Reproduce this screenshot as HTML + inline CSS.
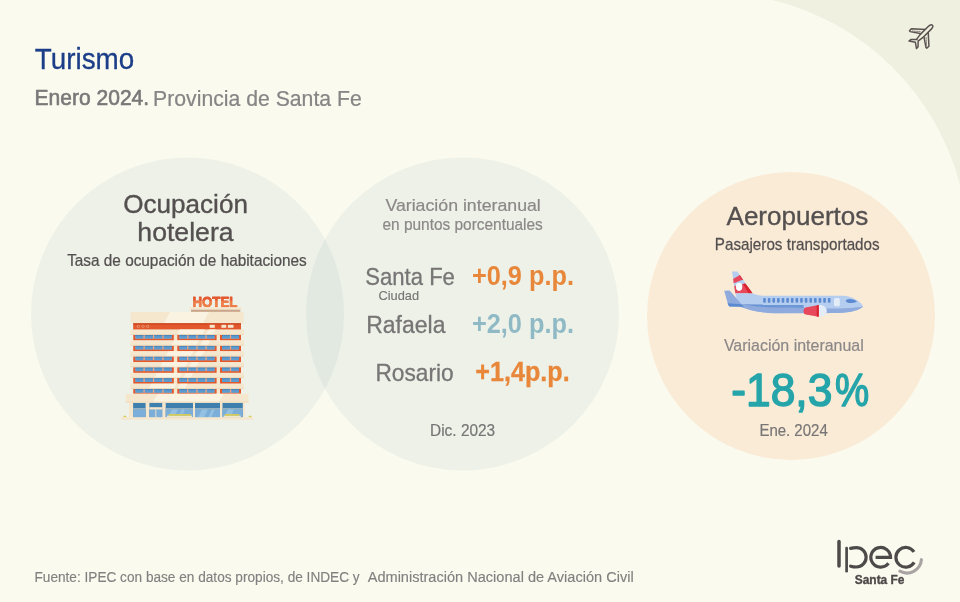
<!DOCTYPE html>
<html lang="es"><head><meta charset="utf-8"><title>Turismo - Enero 2024 - Provincia de Santa Fe</title>
<style>
html,body{margin:0;padding:0;background:#FAFAEE;}
body{width:960px;height:602px;overflow:hidden;font-family:"Liberation Sans",sans-serif;}
svg{display:block;font-family:"Liberation Sans",sans-serif;}
</style></head><body>
<svg width="960" height="602" viewBox="0 0 960 602">
<rect width="960" height="602" fill="#FAFAEE"/>
<path d="M772.1,0 A256.4,256.4 0 0 1 960,184.9 L960,0 Z" fill="#EFF0E0"/>
<circle cx="187.5" cy="314" r="156.5" fill="#EDF1E8"/>
<circle cx="462.5" cy="314" r="156.5" fill="#EDF1E8"/>
<clipPath id="lc"><circle cx="187.5" cy="314" r="156.5"/></clipPath>
<circle cx="462.5" cy="314" r="156.5" fill="#E1E9E1" clip-path="url(#lc)"/>
<circle cx="791" cy="316" r="144" fill="#FAEBD7"/>
<text transform="translate(34.82,68.5) scale(0.9655,1)" font-size="28.8" font-weight="400" fill="#1C3E88" stroke="#1C3E88" stroke-width="0.3" stroke-linejoin="round" xml:space="preserve">Turismo</text>
<text transform="translate(34.55,105.3) scale(0.9654,1)" font-size="21.8" font-weight="400" fill="#7A7878" stroke="#7A7878" stroke-width="0.6" stroke-linejoin="round" xml:space="preserve">Enero 2024.</text>
<text transform="translate(153.10,105.5) scale(0.9728,1)" font-size="21.8" font-weight="400" fill="#878585" stroke="#878585" stroke-width="0.25" stroke-linejoin="round" xml:space="preserve">Provincia de Santa Fe</text>
<text transform="translate(123.19,212.5) scale(1.0120,1)" font-size="25.8" font-weight="400" fill="#555050" stroke="#555050" stroke-width="0.35" stroke-linejoin="round" xml:space="preserve">Ocupación</text>
<text transform="translate(137.34,240.7) scale(1.0058,1)" font-size="26.5" font-weight="400" fill="#555050" stroke="#555050" stroke-width="0.35" stroke-linejoin="round" xml:space="preserve">hotelera</text>
<text transform="translate(67.17,266.0) scale(0.9250,1)" font-size="16.6" font-weight="400" fill="#555050" stroke="#555050" stroke-width="0.25" stroke-linejoin="round" xml:space="preserve">Tasa de ocupación de habitaciones</text>
<text transform="translate(385.40,210.85) scale(1.0562,1)" font-size="16.8" font-weight="400" fill="#8C8888" stroke="#8C8888" stroke-width="0.2" stroke-linejoin="round" xml:space="preserve">Variación interanual</text>
<text transform="translate(382.44,229.5) scale(0.9187,1)" font-size="16.8" font-weight="400" fill="#8C8888" stroke="#8C8888" stroke-width="0.2" stroke-linejoin="round" xml:space="preserve">en puntos porcentuales</text>
<text transform="translate(365.31,285.2) scale(0.9360,1)" font-size="23.6" font-weight="400" fill="#777575" stroke="#777575" stroke-width="0.3" stroke-linejoin="round" xml:space="preserve">Santa Fe</text>
<text transform="translate(378.49,300.1) scale(1.0103,1)" font-size="12.7" font-weight="400" fill="#777575" stroke="#777575" stroke-width="0.15" stroke-linejoin="round" xml:space="preserve">Ciudad</text>
<text transform="translate(471.94,284.9) scale(0.9245,1)" font-size="27.4" font-weight="700" fill="#E8873A" xml:space="preserve">+0,9 p.p.</text>
<text transform="translate(366.18,332.5) scale(0.9835,1)" font-size="23.4" font-weight="400" fill="#777575" stroke="#777575" stroke-width="0.3" stroke-linejoin="round" xml:space="preserve">Rafaela</text>
<text transform="translate(471.94,332.6) scale(0.9245,1)" font-size="27.4" font-weight="700" fill="#8FBAC5" xml:space="preserve">+2,0 p.p.</text>
<text transform="translate(375.50,381.1) scale(0.9692,1)" font-size="23.4" font-weight="400" fill="#777575" stroke="#777575" stroke-width="0.3" stroke-linejoin="round" xml:space="preserve">Rosario</text>
<text transform="translate(475.33,380.7) scale(0.9185,1)" font-size="27.4" font-weight="700" fill="#E8873A" stroke="#E8873A" stroke-width="0.3" stroke-linejoin="round" xml:space="preserve">+1,4p.p.</text>
<text transform="translate(430.05,435.8) scale(0.9174,1)" font-size="16.8" font-weight="400" fill="#777575" stroke="#777575" stroke-width="0.2" stroke-linejoin="round" xml:space="preserve">Dic. 2023</text>
<text transform="translate(726.55,224.5) scale(1.0014,1)" font-size="26.0" font-weight="400" fill="#555050" stroke="#555050" stroke-width="0.35" stroke-linejoin="round" xml:space="preserve">Aeropuertos</text>
<text transform="translate(714.83,249.5) scale(0.9393,1)" font-size="16.2" font-weight="400" fill="#555050" stroke="#555050" stroke-width="0.25" stroke-linejoin="round" xml:space="preserve">Pasajeros transportados</text>
<text transform="translate(723.90,351.1) scale(0.9737,1)" font-size="16.4" font-weight="400" fill="#8C8888" stroke="#8C8888" stroke-width="0.2" stroke-linejoin="round" xml:space="preserve">Variación interanual</text>
<text transform="translate(731.32,405.6) scale(0.9431,1)" font-size="47.0" font-weight="400" fill="#25A5AA" stroke="#25A5AA" stroke-width="1.5" stroke-linejoin="round" xml:space="preserve">-18,3</text>
<text transform="translate(834.98,405.6) scale(0.8176,1)" font-size="47.0" font-weight="400" fill="#25A5AA" stroke="#25A5AA" stroke-width="1.5" stroke-linejoin="round" xml:space="preserve">%</text>
<text transform="translate(759.38,435.8) scale(0.8933,1)" font-size="16.8" font-weight="400" fill="#777575" stroke="#777575" stroke-width="0.2" stroke-linejoin="round" xml:space="preserve">Ene. 2024</text>
<text transform="translate(34.47,581.7) scale(0.9043,1)" font-size="15.1" font-weight="400" fill="#828080" stroke="#828080" stroke-width="0.15" stroke-linejoin="round" xml:space="preserve">Fuente: IPEC con base en datos propios, de INDEC y</text>
<text transform="translate(367.70,581.7) scale(0.9645,1)" font-size="15.1" font-weight="400" fill="#828080" stroke="#828080" stroke-width="0.15" stroke-linejoin="round" xml:space="preserve">Administración Nacional de Aviación Civil</text>
<g><linearGradient id="hg" gradientUnits="userSpaceOnUse" x1="0" y1="-11" x2="0" y2="0"><stop offset="0" stop-color="#E2542B"/><stop offset="0.42" stop-color="#E55B2F"/><stop offset="0.46" stop-color="#EE7B45"/><stop offset="1" stop-color="#EE7B45"/></linearGradient><text transform="translate(192.47,306.8) scale(0.8558,1)" font-size="15.5" font-weight="700" fill="url(#hg)" stroke="url(#hg)" stroke-width="0.9" stroke-linejoin="round" xml:space="preserve">HOTEL</text><rect x="189.3" y="307.2" width="52.5" height="2.6" fill="#F5E7CE"/><rect x="191" y="309.7" width="49.3" height="2.2" fill="#C9A58A"/><rect x="130.5" y="311.9" width="113.2" height="11.4" fill="#F5E7CE"/><polygon points="170,311.9 209,311.9 203,323.3 164,323.3" fill="#FBF3E2"/><rect x="133.2" y="323.3" width="107.8" height="6.4" fill="#E2572B"/><rect x="133.2" y="323.3" width="107.8" height="1.2" fill="#C9431F"/><circle cx="138.2" cy="326.3" r="1.5" fill="#EE9B73"/><circle cx="138.2" cy="326.3" r="0.7" fill="#B8441F"/><circle cx="143" cy="326.3" r="1.5" fill="#EE9B73"/><circle cx="143" cy="326.3" r="0.7" fill="#B8441F"/><circle cx="147.8" cy="326.3" r="1.5" fill="#EE9B73"/><circle cx="147.8" cy="326.3" r="0.7" fill="#B8441F"/><rect x="209.7" y="324.8" width="5.1" height="3" fill="#F5E7CE"/><rect x="221.4" y="324.8" width="4.8" height="3" fill="#F5E7CE"/><rect x="227.9" y="324.8" width="5.6" height="3" fill="#F5E7CE"/><rect x="133.4" y="334.70" width="107.6" height="5.72" fill="#F5E7CE"/><rect x="133.3" y="334.70" width="40.5" height="5.72" fill="#E2572B"/><rect x="135.3" y="335.00" width="36.5" height="3.7" fill="#F2A27F"/><rect x="135.30" y="335.00" width="8.15" height="3.7" fill="#5B9BD0"/><rect x="135.30" y="335.00" width="8.15" height="1.1" fill="#4A86BA"/><rect x="144.75" y="335.00" width="8.15" height="3.7" fill="#5B9BD0"/><rect x="144.75" y="335.00" width="8.15" height="1.1" fill="#4A86BA"/><rect x="154.20" y="335.00" width="8.15" height="3.7" fill="#5B9BD0"/><rect x="154.20" y="335.00" width="8.15" height="1.1" fill="#4A86BA"/><rect x="163.65" y="335.00" width="8.15" height="3.7" fill="#5B9BD0"/><rect x="163.65" y="335.00" width="8.15" height="1.1" fill="#4A86BA"/><rect x="177.3" y="334.70" width="39.3" height="5.72" fill="#E2572B"/><rect x="179.3" y="335.00" width="35.3" height="3.7" fill="#F2A27F"/><rect x="179.30" y="335.00" width="7.85" height="3.7" fill="#5B9BD0"/><rect x="179.30" y="335.00" width="7.85" height="1.1" fill="#4A86BA"/><rect x="188.45" y="335.00" width="7.85" height="3.7" fill="#5B9BD0"/><rect x="188.45" y="335.00" width="7.85" height="1.1" fill="#4A86BA"/><rect x="197.60" y="335.00" width="7.85" height="3.7" fill="#5B9BD0"/><rect x="197.60" y="335.00" width="7.85" height="1.1" fill="#4A86BA"/><rect x="206.75" y="335.00" width="7.85" height="3.7" fill="#5B9BD0"/><rect x="206.75" y="335.00" width="7.85" height="1.1" fill="#4A86BA"/><rect x="220.0" y="334.70" width="21.0" height="5.72" fill="#E2572B"/><rect x="222.0" y="335.00" width="17.0" height="3.7" fill="#F2A27F"/><rect x="222.00" y="335.00" width="7.85" height="3.7" fill="#5B9BD0"/><rect x="222.00" y="335.00" width="7.85" height="1.1" fill="#4A86BA"/><rect x="231.15" y="335.00" width="7.85" height="3.7" fill="#5B9BD0"/><rect x="231.15" y="335.00" width="7.85" height="1.1" fill="#4A86BA"/><rect x="130.3" y="329.60" width="113.7" height="5.1" fill="#F5E7CE"/><rect x="130.3" y="334.00" width="113.7" height="0.7" fill="#E9D6B8"/><rect x="133.4" y="345.52" width="107.6" height="5.72" fill="#F5E7CE"/><rect x="133.3" y="345.52" width="40.5" height="5.72" fill="#E2572B"/><rect x="135.3" y="345.82" width="36.5" height="3.7" fill="#F2A27F"/><rect x="135.30" y="345.82" width="8.15" height="3.7" fill="#5B9BD0"/><rect x="135.30" y="345.82" width="8.15" height="1.1" fill="#4A86BA"/><rect x="144.75" y="345.82" width="8.15" height="3.7" fill="#5B9BD0"/><rect x="144.75" y="345.82" width="8.15" height="1.1" fill="#4A86BA"/><rect x="154.20" y="345.82" width="8.15" height="3.7" fill="#5B9BD0"/><rect x="154.20" y="345.82" width="8.15" height="1.1" fill="#4A86BA"/><rect x="163.65" y="345.82" width="8.15" height="3.7" fill="#5B9BD0"/><rect x="163.65" y="345.82" width="8.15" height="1.1" fill="#4A86BA"/><rect x="177.3" y="345.52" width="39.3" height="5.72" fill="#E2572B"/><rect x="179.3" y="345.82" width="35.3" height="3.7" fill="#F2A27F"/><rect x="179.30" y="345.82" width="7.85" height="3.7" fill="#5B9BD0"/><rect x="179.30" y="345.82" width="7.85" height="1.1" fill="#4A86BA"/><rect x="188.45" y="345.82" width="7.85" height="3.7" fill="#5B9BD0"/><rect x="188.45" y="345.82" width="7.85" height="1.1" fill="#4A86BA"/><rect x="197.60" y="345.82" width="7.85" height="3.7" fill="#5B9BD0"/><rect x="197.60" y="345.82" width="7.85" height="1.1" fill="#4A86BA"/><rect x="206.75" y="345.82" width="7.85" height="3.7" fill="#5B9BD0"/><rect x="206.75" y="345.82" width="7.85" height="1.1" fill="#4A86BA"/><rect x="220.0" y="345.52" width="21.0" height="5.72" fill="#E2572B"/><rect x="222.0" y="345.82" width="17.0" height="3.7" fill="#F2A27F"/><rect x="222.00" y="345.82" width="7.85" height="3.7" fill="#5B9BD0"/><rect x="222.00" y="345.82" width="7.85" height="1.1" fill="#4A86BA"/><rect x="231.15" y="345.82" width="7.85" height="3.7" fill="#5B9BD0"/><rect x="231.15" y="345.82" width="7.85" height="1.1" fill="#4A86BA"/><rect x="130.3" y="340.42" width="113.7" height="5.1" fill="#F5E7CE"/><rect x="130.3" y="344.82" width="113.7" height="0.7" fill="#E9D6B8"/><rect x="133.4" y="356.34" width="107.6" height="5.72" fill="#F5E7CE"/><rect x="133.3" y="356.34" width="40.5" height="5.72" fill="#E2572B"/><rect x="135.3" y="356.64" width="36.5" height="3.7" fill="#F2A27F"/><rect x="135.30" y="356.64" width="8.15" height="3.7" fill="#5B9BD0"/><rect x="135.30" y="356.64" width="8.15" height="1.1" fill="#4A86BA"/><rect x="144.75" y="356.64" width="8.15" height="3.7" fill="#5B9BD0"/><rect x="144.75" y="356.64" width="8.15" height="1.1" fill="#4A86BA"/><rect x="154.20" y="356.64" width="8.15" height="3.7" fill="#5B9BD0"/><rect x="154.20" y="356.64" width="8.15" height="1.1" fill="#4A86BA"/><rect x="163.65" y="356.64" width="8.15" height="3.7" fill="#5B9BD0"/><rect x="163.65" y="356.64" width="8.15" height="1.1" fill="#4A86BA"/><rect x="177.3" y="356.34" width="39.3" height="5.72" fill="#E2572B"/><rect x="179.3" y="356.64" width="35.3" height="3.7" fill="#F2A27F"/><rect x="179.30" y="356.64" width="7.85" height="3.7" fill="#5B9BD0"/><rect x="179.30" y="356.64" width="7.85" height="1.1" fill="#4A86BA"/><rect x="188.45" y="356.64" width="7.85" height="3.7" fill="#5B9BD0"/><rect x="188.45" y="356.64" width="7.85" height="1.1" fill="#4A86BA"/><rect x="197.60" y="356.64" width="7.85" height="3.7" fill="#5B9BD0"/><rect x="197.60" y="356.64" width="7.85" height="1.1" fill="#4A86BA"/><rect x="206.75" y="356.64" width="7.85" height="3.7" fill="#5B9BD0"/><rect x="206.75" y="356.64" width="7.85" height="1.1" fill="#4A86BA"/><rect x="220.0" y="356.34" width="21.0" height="5.72" fill="#E2572B"/><rect x="222.0" y="356.64" width="17.0" height="3.7" fill="#F2A27F"/><rect x="222.00" y="356.64" width="7.85" height="3.7" fill="#5B9BD0"/><rect x="222.00" y="356.64" width="7.85" height="1.1" fill="#4A86BA"/><rect x="231.15" y="356.64" width="7.85" height="3.7" fill="#5B9BD0"/><rect x="231.15" y="356.64" width="7.85" height="1.1" fill="#4A86BA"/><rect x="130.3" y="351.24" width="113.7" height="5.1" fill="#F5E7CE"/><rect x="130.3" y="355.64" width="113.7" height="0.7" fill="#E9D6B8"/><rect x="133.4" y="367.16" width="107.6" height="5.72" fill="#F5E7CE"/><rect x="133.3" y="367.16" width="40.5" height="5.72" fill="#E2572B"/><rect x="135.3" y="367.46" width="36.5" height="3.7" fill="#F2A27F"/><rect x="135.30" y="367.46" width="8.15" height="3.7" fill="#5B9BD0"/><rect x="135.30" y="367.46" width="8.15" height="1.1" fill="#4A86BA"/><rect x="144.75" y="367.46" width="8.15" height="3.7" fill="#5B9BD0"/><rect x="144.75" y="367.46" width="8.15" height="1.1" fill="#4A86BA"/><rect x="154.20" y="367.46" width="8.15" height="3.7" fill="#5B9BD0"/><rect x="154.20" y="367.46" width="8.15" height="1.1" fill="#4A86BA"/><rect x="163.65" y="367.46" width="8.15" height="3.7" fill="#5B9BD0"/><rect x="163.65" y="367.46" width="8.15" height="1.1" fill="#4A86BA"/><rect x="177.3" y="367.16" width="39.3" height="5.72" fill="#E2572B"/><rect x="179.3" y="367.46" width="35.3" height="3.7" fill="#F2A27F"/><rect x="179.30" y="367.46" width="7.85" height="3.7" fill="#5B9BD0"/><rect x="179.30" y="367.46" width="7.85" height="1.1" fill="#4A86BA"/><rect x="188.45" y="367.46" width="7.85" height="3.7" fill="#5B9BD0"/><rect x="188.45" y="367.46" width="7.85" height="1.1" fill="#4A86BA"/><rect x="197.60" y="367.46" width="7.85" height="3.7" fill="#5B9BD0"/><rect x="197.60" y="367.46" width="7.85" height="1.1" fill="#4A86BA"/><rect x="206.75" y="367.46" width="7.85" height="3.7" fill="#5B9BD0"/><rect x="206.75" y="367.46" width="7.85" height="1.1" fill="#4A86BA"/><rect x="220.0" y="367.16" width="21.0" height="5.72" fill="#E2572B"/><rect x="222.0" y="367.46" width="17.0" height="3.7" fill="#F2A27F"/><rect x="222.00" y="367.46" width="7.85" height="3.7" fill="#5B9BD0"/><rect x="222.00" y="367.46" width="7.85" height="1.1" fill="#4A86BA"/><rect x="231.15" y="367.46" width="7.85" height="3.7" fill="#5B9BD0"/><rect x="231.15" y="367.46" width="7.85" height="1.1" fill="#4A86BA"/><rect x="130.3" y="362.06" width="113.7" height="5.1" fill="#F5E7CE"/><rect x="130.3" y="366.46" width="113.7" height="0.7" fill="#E9D6B8"/><rect x="133.4" y="377.98" width="107.6" height="5.72" fill="#F5E7CE"/><rect x="133.3" y="377.98" width="40.5" height="5.72" fill="#E2572B"/><rect x="135.3" y="378.28" width="36.5" height="3.7" fill="#F2A27F"/><rect x="135.30" y="378.28" width="8.15" height="3.7" fill="#5B9BD0"/><rect x="135.30" y="378.28" width="8.15" height="1.1" fill="#4A86BA"/><rect x="144.75" y="378.28" width="8.15" height="3.7" fill="#5B9BD0"/><rect x="144.75" y="378.28" width="8.15" height="1.1" fill="#4A86BA"/><rect x="154.20" y="378.28" width="8.15" height="3.7" fill="#5B9BD0"/><rect x="154.20" y="378.28" width="8.15" height="1.1" fill="#4A86BA"/><rect x="163.65" y="378.28" width="8.15" height="3.7" fill="#5B9BD0"/><rect x="163.65" y="378.28" width="8.15" height="1.1" fill="#4A86BA"/><rect x="177.3" y="377.98" width="39.3" height="5.72" fill="#E2572B"/><rect x="179.3" y="378.28" width="35.3" height="3.7" fill="#F2A27F"/><rect x="179.30" y="378.28" width="7.85" height="3.7" fill="#5B9BD0"/><rect x="179.30" y="378.28" width="7.85" height="1.1" fill="#4A86BA"/><rect x="188.45" y="378.28" width="7.85" height="3.7" fill="#5B9BD0"/><rect x="188.45" y="378.28" width="7.85" height="1.1" fill="#4A86BA"/><rect x="197.60" y="378.28" width="7.85" height="3.7" fill="#5B9BD0"/><rect x="197.60" y="378.28" width="7.85" height="1.1" fill="#4A86BA"/><rect x="206.75" y="378.28" width="7.85" height="3.7" fill="#5B9BD0"/><rect x="206.75" y="378.28" width="7.85" height="1.1" fill="#4A86BA"/><rect x="220.0" y="377.98" width="21.0" height="5.72" fill="#E2572B"/><rect x="222.0" y="378.28" width="17.0" height="3.7" fill="#F2A27F"/><rect x="222.00" y="378.28" width="7.85" height="3.7" fill="#5B9BD0"/><rect x="222.00" y="378.28" width="7.85" height="1.1" fill="#4A86BA"/><rect x="231.15" y="378.28" width="7.85" height="3.7" fill="#5B9BD0"/><rect x="231.15" y="378.28" width="7.85" height="1.1" fill="#4A86BA"/><rect x="130.3" y="372.88" width="113.7" height="5.1" fill="#F5E7CE"/><rect x="130.3" y="377.28" width="113.7" height="0.7" fill="#E9D6B8"/><rect x="133.4" y="388.80" width="107.6" height="4.8" fill="#F5E7CE"/><rect x="133.3" y="388.80" width="40.5" height="4.8" fill="#E2572B"/><rect x="135.3" y="389.10" width="36.5" height="3.7" fill="#F2A27F"/><rect x="135.30" y="389.10" width="8.15" height="3.7" fill="#5B9BD0"/><rect x="135.30" y="389.10" width="8.15" height="1.1" fill="#4A86BA"/><rect x="144.75" y="389.10" width="8.15" height="3.7" fill="#5B9BD0"/><rect x="144.75" y="389.10" width="8.15" height="1.1" fill="#4A86BA"/><rect x="154.20" y="389.10" width="8.15" height="3.7" fill="#5B9BD0"/><rect x="154.20" y="389.10" width="8.15" height="1.1" fill="#4A86BA"/><rect x="163.65" y="389.10" width="8.15" height="3.7" fill="#5B9BD0"/><rect x="163.65" y="389.10" width="8.15" height="1.1" fill="#4A86BA"/><rect x="177.3" y="388.80" width="39.3" height="4.8" fill="#E2572B"/><rect x="179.3" y="389.10" width="35.3" height="3.7" fill="#F2A27F"/><rect x="179.30" y="389.10" width="7.85" height="3.7" fill="#5B9BD0"/><rect x="179.30" y="389.10" width="7.85" height="1.1" fill="#4A86BA"/><rect x="188.45" y="389.10" width="7.85" height="3.7" fill="#5B9BD0"/><rect x="188.45" y="389.10" width="7.85" height="1.1" fill="#4A86BA"/><rect x="197.60" y="389.10" width="7.85" height="3.7" fill="#5B9BD0"/><rect x="197.60" y="389.10" width="7.85" height="1.1" fill="#4A86BA"/><rect x="206.75" y="389.10" width="7.85" height="3.7" fill="#5B9BD0"/><rect x="206.75" y="389.10" width="7.85" height="1.1" fill="#4A86BA"/><rect x="220.0" y="388.80" width="21.0" height="4.8" fill="#E2572B"/><rect x="222.0" y="389.10" width="17.0" height="3.7" fill="#F2A27F"/><rect x="222.00" y="389.10" width="7.85" height="3.7" fill="#5B9BD0"/><rect x="222.00" y="389.10" width="7.85" height="1.1" fill="#4A86BA"/><rect x="231.15" y="389.10" width="7.85" height="3.7" fill="#5B9BD0"/><rect x="231.15" y="389.10" width="7.85" height="1.1" fill="#4A86BA"/><rect x="130.3" y="383.70" width="113.7" height="5.1" fill="#F5E7CE"/><rect x="130.3" y="388.10" width="113.7" height="0.7" fill="#E9D6B8"/><clipPath id="slabs"><rect x="130.3" y="329.60" width="113.7" height="4.4"/><rect x="130.3" y="340.42" width="113.7" height="4.4"/><rect x="130.3" y="351.24" width="113.7" height="4.4"/><rect x="130.3" y="362.06" width="113.7" height="4.4"/><rect x="130.3" y="372.88" width="113.7" height="4.4"/><rect x="130.3" y="383.70" width="113.7" height="4.4"/></clipPath><g clip-path="url(#slabs)" fill="#FBF3E2"><polygon points="180,329 205,329 171,394 146,394"/><polygon points="209,329 216,329 182,394 175,394"/></g><rect x="129" y="402.4" width="115.7" height="14.9" fill="#F5E7CE"/><rect x="133.1" y="402.9" width="12.5" height="14.4" fill="#3F7FAE"/><rect x="133.1" y="409.6" width="12.5" height="7.7" fill="#7BAFD9"/><rect x="133.1" y="408.2" width="12.5" height="1.4" fill="#A9BFCB"/><rect x="149.4" y="402.9" width="12.8" height="14.4" fill="#3F7FAE"/><rect x="149.4" y="409.6" width="12.8" height="7.7" fill="#7BAFD9"/><rect x="149.4" y="408.2" width="12.8" height="1.4" fill="#A9BFCB"/><rect x="165.7" y="402.9" width="27.3" height="14.4" fill="#3F7FAE"/><rect x="165.7" y="409.6" width="27.3" height="7.7" fill="#7BAFD9"/><rect x="165.7" y="408.2" width="27.3" height="1.4" fill="#A9BFCB"/><rect x="195" y="402.9" width="25.0" height="14.4" fill="#3F7FAE"/><rect x="195" y="409.6" width="25.0" height="7.7" fill="#7BAFD9"/><rect x="195" y="408.2" width="25.0" height="1.4" fill="#A9BFCB"/><rect x="222.5" y="402.9" width="20.3" height="14.4" fill="#3F7FAE"/><rect x="222.5" y="409.6" width="20.3" height="7.7" fill="#7BAFD9"/><rect x="222.5" y="408.2" width="20.3" height="1.4" fill="#A9BFCB"/><rect x="149.4" y="407.2" width="12.8" height="2.2" fill="#F5E7CE"/><rect x="155.4" y="409.4" width="0.9" height="7.9" fill="#F5E7CE"/><clipPath id="gl"><rect x="165.7" y="409.6" width="77.1" height="7.7"/></clipPath><g clip-path="url(#gl)" fill="#A5CBE8" opacity="0.6"><polygon points="172,409 178,409 174,418 168,418"/><polygon points="182,409 185,409 181,418 178,418"/><polygon points="202,409 208,409 204,418 198,418"/><polygon points="212,409 215,409 211,418 208,418"/><polygon points="228,409 234,409 230,418 224,418"/></g><rect x="125.7" y="393.9" width="122.9" height="8.5" fill="#F5E7CE"/><rect x="125.7" y="401.6" width="122.9" height="0.8" fill="#E9D6B8"/><polygon points="158,393.9 224,393.9 219,401.6 153,401.6" fill="#FBF3E2"/><rect x="167" y="415.6" width="25" height="1.8" fill="#F5E7CE"/><rect x="168.5" y="414" width="22.5" height="1.7" rx="0.6" fill="#D6CC55"/><rect x="223.6" y="415.6" width="17" height="1.8" fill="#F5E7CE"/><rect x="224.8" y="414" width="14.6" height="1.7" rx="0.6" fill="#D6CC55"/><rect x="123.4" y="415.7" width="3" height="1.7" rx="0.8" fill="#D6CC55"/><rect x="248.6" y="415.7" width="3" height="1.7" rx="0.8" fill="#D6CC55"/><rect x="121.1" y="417.3" width="132.2" height="2.4" fill="#F5E7CE"/></g>
<g><path d="M735.3,293.2 L752.4,293.2 C756,295 760,295.8 766,295.8 L843.5,295.7 C851,296 860.5,301 863.2,306.4 C860,309.6 852,312.6 838,313 L775,313.3 C760,313.3 748,309.5 738.5,306.2 Z" fill="#B5CDEE"/><path d="M740,304 C760,305.5 790,308.6 827,308.6 C845,308.4 856,307.6 863.2,306.4 C860,309.6 852,312.6 838,313 L775,313.3 C760,313.3 748,309.5 738.5,306.2 Z" fill="#8FAADC"/><path d="M741.5,304.3 L803.7,304.6 L803.7,307.9 L770,307.3 C760,306.8 750,305.8 741.5,304.3 Z" fill="#5B8AD0" opacity="0.8"/><path d="M724.2,290.8 L729.7,290.6 L741.8,304.4 L744,306.8 L729.5,306.6 L728.2,305 Z" fill="#8FAADC"/><path d="M727.6,303.3 L741.3,304.2 L744,306.8 L729.5,306.6 L728.2,305 Z" fill="#5B8AD0"/><path d="M732,271.5 L737.4,271.5 L752.4,293.3 L735.3,293.3 Z" fill="#B5CDEE"/><clipPath id="fin"><path d="M732,271.5 L737.4,271.5 L752.4,293.3 L735.3,293.3 Z"/></clipPath><g clip-path="url(#fin)"><path d="M731,280.2 L739.6,275.2 L742.5,279.8 L731,284.4 Z" fill="#E8485C"/><path d="M739.2,275.4 L741,274.4 L744,279.2 L742.2,280 Z" fill="#D9232E"/><path d="M731,286.8 L745,283.6 L754,293.4 L731,293.4 Z" fill="#E8485C"/><path d="M743.2,284 L745.6,283.4 L754,293.4 L748.6,293.4 Z" fill="#D9232E"/></g><ellipse cx="739.1" cy="286.8" rx="3.2" ry="4.1" fill="#FFFFFF"/><rect x="763.20" y="297.9" width="2.6" height="4.8" rx="0.9" fill="#5B8AD0"/><rect x="767.82" y="297.9" width="2.6" height="4.8" rx="0.9" fill="#5B8AD0"/><rect x="772.44" y="297.9" width="2.6" height="4.8" rx="0.9" fill="#5B8AD0"/><rect x="777.06" y="297.9" width="2.6" height="4.8" rx="0.9" fill="#5B8AD0"/><rect x="781.68" y="297.9" width="2.6" height="4.8" rx="0.9" fill="#5B8AD0"/><rect x="786.30" y="297.9" width="2.6" height="4.8" rx="0.9" fill="#5B8AD0"/><rect x="790.92" y="297.9" width="2.6" height="4.8" rx="0.9" fill="#5B8AD0"/><rect x="795.54" y="297.9" width="2.6" height="4.8" rx="0.9" fill="#5B8AD0"/><rect x="800.16" y="297.9" width="2.6" height="4.8" rx="0.9" fill="#5B8AD0"/><rect x="804.78" y="297.9" width="2.6" height="4.8" rx="0.9" fill="#5B8AD0"/><rect x="809.40" y="297.9" width="2.6" height="4.8" rx="0.9" fill="#5B8AD0"/><rect x="814.02" y="297.9" width="2.6" height="4.8" rx="0.9" fill="#5B8AD0"/><rect x="818.64" y="297.9" width="2.6" height="4.8" rx="0.9" fill="#5B8AD0"/><rect x="823.26" y="297.9" width="2.6" height="4.8" rx="0.9" fill="#5B8AD0"/><rect x="827.88" y="297.9" width="2.6" height="4.8" rx="0.9" fill="#5B8AD0"/><rect x="834" y="297.9" width="5.8" height="8.4" rx="1.5" fill="#E4ECF8"/><path d="M845.7,301 C846.5,298.6 851.5,298.2 857.1,301.4 C853,303.4 847.5,303.9 845.7,301 Z" fill="#5B8AD0"/><path d="M818.7,305 C822,305 823.5,305.6 825,307 C826.3,308.3 826.8,309.5 826.8,310.9 C826.8,312.3 826.3,313.6 825,314.8 C823.5,316.2 822,316.8 818.7,316.8 Z" fill="#E4ECF8"/><path d="M805.6,307.4 L818.75,305 L818.75,316.8 L805.6,314.4 C802.8,313.4 802.8,308.4 805.6,307.4 Z" fill="#E8485C"/><path d="M816.7,305.4 L818.75,305 L818.75,316.8 L816.7,316.4 Z" fill="#D9232E"/></g>
<g transform="translate(921.3,36.3) rotate(45)" fill="#EFF0E0" stroke="#5A5250" stroke-width="1.5" stroke-linejoin="round" stroke-linecap="round">
<path d="M-1.5,-8.2 L-12.4,1.6 L-12.2,4.5 L-11.2,4.6 L-1.5,-2.0 Z"/>
<path d="M1.5,-8.2 L12.4,1.6 L12.2,4.5 L11.2,4.6 L1.5,-2.0 Z"/>
<path d="M-4.2,-2.6 L-10,2.6 M4.2,-2.6 L10,2.6" stroke-width="0.7" stroke-dasharray="1.3 1.1" fill="none"/>
<path d="M-0.9,7.4 L-2.0,0 L-2.0,-11.4 C-2.0,-13.8 -1.5,-15.7 0,-15.7 C1.5,-15.7 2.0,-13.8 2.0,-11.4 L2.0,0 L0.9,7.4"/>
<path d="M-0.9,5.3 L-5.1,9.7 L-5.3,12.1 L0,8.4 L5.3,12.1 L5.1,9.7 L0.9,5.3"/>
</g>
<g><line x1="839" y1="541.4" x2="839" y2="566.1" stroke="#4F4A4A" stroke-width="3.5" stroke-linecap="round"/><line x1="846.6" y1="548" x2="846.6" y2="571.2" stroke="#4F4A4A" stroke-width="2.7" stroke-linecap="round"/><path d="M850.6,548.4 Q853.4,547.6 856.4,547.6 A9.7,9.7 0 0 1 856.4,567 Q853.4,567 850.6,566.2" fill="none" stroke="#4F4A4A" stroke-width="3.2" stroke-linecap="round"/><path d="M875.6,557.4 L890.5500000000001,557.4 A9.85,9.85 0 1 0 888.46,563.36" fill="none" stroke="#4F4A4A" stroke-width="3.2" stroke-linecap="butt"/><path d="M914.01,551.94 A9.85,9.85 0 1 0 914.19,562.37" fill="none" stroke="#4F4A4A" stroke-width="3.2" stroke-linecap="butt"/><path d="M899.82,571.17 A14.6,14.6 0 0 0 921.44,559.67" fill="none" stroke="#A9A3A3" stroke-width="3.1" stroke-linecap="round"/><text transform="translate(854.76,584.0) scale(0.9639,1)" font-size="12.4" font-weight="700" fill="#4F4A4A" stroke="#4F4A4A" stroke-width="0.35" stroke-linejoin="round" xml:space="preserve">Santa Fe</text></g>
</svg>
</body></html>
